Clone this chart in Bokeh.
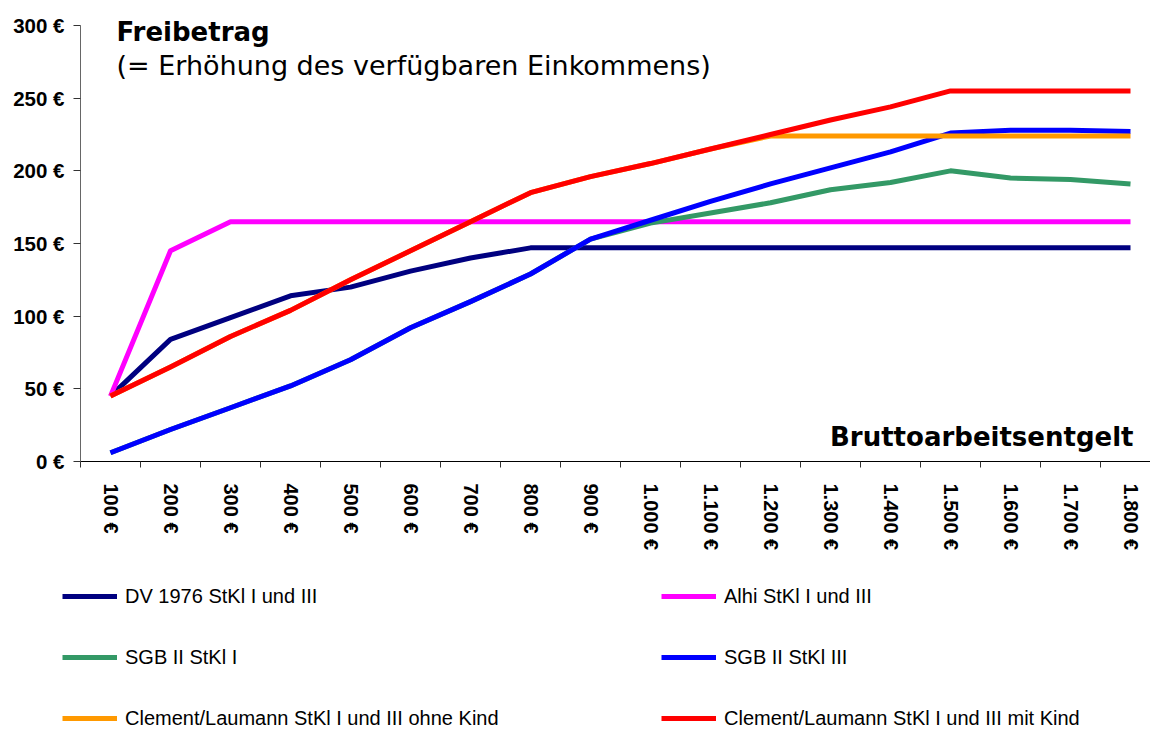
import math
from bokeh.plotting import figure
from bokeh.models import Range1d, FixedTicker, Label, Legend, LegendItem
from bokeh.embed import file_html
from bokeh.resources import INLINE

# ---------------- data ----------------
categories = ["100 €", "200 €", "300 €", "400 €", "500 €", "600 €", "700 €", "800 €", "900 €",
              "1.000 €", "1.100 €", "1.200 €", "1.300 €", "1.400 €", "1.500 €", "1.600 €",
              "1.700 €", "1.800 €"]
dv_1976 = [45, 84, 99, 114, 120, 131, 140, 147, 147, 147, 147, 147, 147, 147, 147, 147, 147, 147]
alhi = [45, 145, 165, 165, 165, 165, 165, 165, 165, 165, 165, 165, 165, 165, 165, 165, 165, 165]
sgb2_stkl1 = [6, 22, 37, 52, 70, 92, 110, 129, 153, 164, 171, 178, 187, 192, 200, 195, 194, 191]
sgb2_stkl3 = [6, 22, 37, 52, 70, 92, 110, 129, 153, 166, 179, 191, 202, 213, 226, 228, 228, 227]
clement_ohne = [45, 65, 86, 104, 125, 145, 165, 185, 196, 205, 215, 224, 224, 224, 224, 224, 224, 224]
clement_mit = [45, 65, 86, 104, 125, 145, 165, 185, 196, 205, 215, 225, 235, 244, 255, 255, 255, 255]

series_names = ["DV 1976 StKl I und III", "Alhi StKl I und III", "SGB II StKl I",
                "SGB II StKl III", "Clement/Laumann StKl I und III ohne Kind",
                "Clement/Laumann StKl I und III mit Kind"]
series_colors = ["#000080", "#FF00FF", "#339966", "#0000FF", "#FF9900", "#FF0000"]

y_ticks = [0, 50, 100, 150, 200, 250, 300]
y_tick_labels = ["0 €", "50 €", "100 €", "150 €", "200 €", "250 €", "300 €"]

title_text = "Freibetrag"
subtitle_text = "(= Erhöhung des verfügbaren Einkommens)"
x_title = "Bruttoarbeitsentgelt"

# ---------------- figure ----------------
x = list(range(len(categories)))
n = len(categories)

W, H = 1150, 729
px_x = 60.0            # pixels per category
px_y = 436.0 / 300.0   # pixels per euro
x0_px, y0_px = 110.0, 461.0

p = figure(width=W, height=H, output_backend="svg", toolbar_location=None,
           x_range=Range1d(-x0_px / px_x, (W - x0_px) / px_x),
           y_range=Range1d(-(H - y0_px) / px_y, y0_px / px_y),
           min_border_left=0, min_border_right=0, min_border_top=0, min_border_bottom=0)
p.outline_line_color = None
p.xgrid.visible = False
p.ygrid.visible = False
p.background_fill_color = "white"
p.border_fill_color = "white"

# y axis
yax = p.yaxis[0]
yax.fixed_location = -0.5
yax.bounds = (0, 300)
yax.ticker = FixedTicker(ticks=y_ticks, minor_ticks=[])
yax.major_label_overrides = {t: l for t, l in zip(y_ticks, y_tick_labels)}
yax.major_tick_in = 0
yax.major_tick_out = 7
yax.minor_tick_in = 0
yax.minor_tick_out = 0
yax.axis_line_color = "#666666"
yax.major_tick_line_color = "#333333"
yax.major_label_text_font = "Liberation Sans"
yax.major_label_text_font_style = "bold"
yax.major_label_text_font_size = "20.5px"
yax.major_label_text_color = "black"
yax.major_label_standoff = 9

# x axis
xax = p.xaxis[0]
xax.fixed_location = 0
xax.bounds = (-0.5, n + 0.5)
xax.ticker = FixedTicker(ticks=x, minor_ticks=[i - 0.5 for i in range(n + 1)])
xax.major_label_overrides = {i: c for i, c in zip(x, categories)}
xax.major_tick_in = 0
xax.major_tick_out = 0
xax.minor_tick_in = 0
xax.minor_tick_out = 6
xax.axis_line_color = "black"
xax.minor_tick_line_color = "#333333"
xax.major_label_orientation = -math.pi / 2
xax.major_label_text_font = "Liberation Sans"
xax.major_label_text_font_style = "bold"
xax.major_label_text_font_size = "20px"
xax.major_label_text_color = "black"
xax.major_label_standoff = 16

# lines
all_series = [dv_1976, alhi, sgb2_stkl1, sgb2_stkl3, clement_ohne, clement_mit]
items = []
for name, color, ys in zip(series_names, series_colors, all_series):
    r = p.line(x, ys, line_color=color, line_width=5, line_join="round")
    items.append(LegendItem(label=name, renderers=[r]))

# texts
p.add_layout(Label(x=0.1, y=295.2, text=title_text, text_font="DejaVu Sans",
                   text_font_style="bold", text_font_size="26px", text_color="black",
                   text_baseline="alphabetic", text_align="left"))
p.add_layout(Label(x=0.1, y=272.5, text=subtitle_text, text_font="DejaVu Sans",
                   text_font_size="27px", text_color="black",
                   text_baseline="alphabetic", text_align="left"))
p.add_layout(Label(x=17.05, y=16.7, text=x_title, text_font="DejaVu Sans",
                   text_font_style="bold", text_font_size="26px", text_color="black",
                   text_baseline="alphabetic", text_align="right"))

# legend
legend = Legend(items=items, orientation="horizontal", ncols=2,
                location=(62, -1),
                glyph_width=55, glyph_height=24, label_standoff=8,
                label_width=499, label_height=24, spacing=37, padding=0, margin=0,
                border_line_color=None, background_fill_alpha=0,
                label_text_font="Liberation Sans", label_text_font_size="20px",
                label_text_color="black")
p.add_layout(legend, "center")

open("out.html", "w").write(file_html(p, INLINE))
